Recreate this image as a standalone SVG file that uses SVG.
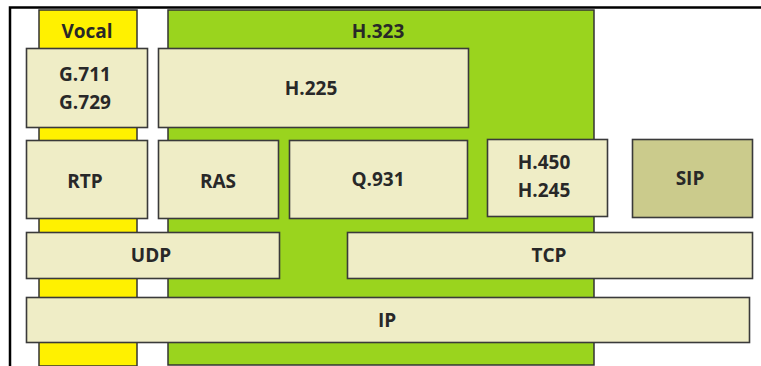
<svg xmlns="http://www.w3.org/2000/svg" width="761" height="366" viewBox="0 0 761 366">
  <style>
    .col { stroke: #333333; stroke-width: 1.5; }
    .box { fill: #EFEDC6; stroke: #3a3a3a; stroke-width: 1.6; }
    .sip { fill: #CBCB8C; stroke: #3a3a3a; stroke-width: 1.6; }
    .lbl { font-family: "Open Sans", "Noto Sans", "Liberation Sans", sans-serif; font-weight: bold; font-size: 19px; fill: #282828; text-anchor: middle; dominant-baseline: central; }
  </style>
  <rect width="761" height="366" fill="#ffffff"/>
  <!-- frame -->
  <path d="M10,366 V7.5 H761" fill="none" stroke="#000000" stroke-width="2.5"/>

  <!-- background columns -->
  <g id="vocal">
    <rect class="col" x="39" y="10" width="98" height="356" fill="#FFF100"/>
    <text class="lbl" x="87" y="31">Vocal</text>
  </g>
  <g id="h323">
    <rect class="col" x="168" y="10" width="426" height="355" fill="#9AD41E"/>
    <text class="lbl" x="378" y="31">H.323</text>
  </g>

  <!-- protocol boxes -->
  <g id="g711">
    <rect class="box" x="26.5" y="48.5" width="121" height="79"/>
    <text class="lbl" x="85" y="74">G.711</text>
    <text class="lbl" x="85" y="102">G.729</text>
  </g>
  <g id="h225">
    <rect class="box" x="158.5" y="48.5" width="310" height="79"/>
    <text class="lbl" x="311" y="88">H.225</text>
  </g>
  <g id="rtp">
    <rect class="box" x="26.5" y="140.5" width="121" height="78"/>
    <text class="lbl" x="85" y="181">RTP</text>
  </g>
  <g id="ras">
    <rect class="box" x="158.5" y="140.5" width="120" height="78"/>
    <text class="lbl" x="218" y="181">RAS</text>
  </g>
  <g id="q931">
    <rect class="box" x="289.5" y="140.5" width="178" height="78"/>
    <text class="lbl" x="378" y="179">Q.931</text>
  </g>
  <g id="h450">
    <rect class="box" x="487.5" y="139.5" width="120" height="77"/>
    <text class="lbl" x="544" y="162">H.450</text>
    <text class="lbl" x="544" y="190">H.245</text>
  </g>
  <g id="sip">
    <rect class="sip" x="632.5" y="139.5" width="120" height="78"/>
    <text class="lbl" x="690" y="178">SIP</text>
  </g>
  <g id="udp">
    <rect class="box" x="26.5" y="232.5" width="253" height="46"/>
    <text class="lbl" x="151" y="255">UDP</text>
  </g>
  <g id="tcp">
    <rect class="box" x="347.5" y="232.5" width="405" height="46"/>
    <text class="lbl" x="549" y="255">TCP</text>
  </g>
  <g id="ip">
    <rect class="box" x="26.5" y="297.5" width="723" height="45"/>
    <text class="lbl" x="387" y="320">IP</text>
  </g>

  <g id="connectors"/>
</svg>
